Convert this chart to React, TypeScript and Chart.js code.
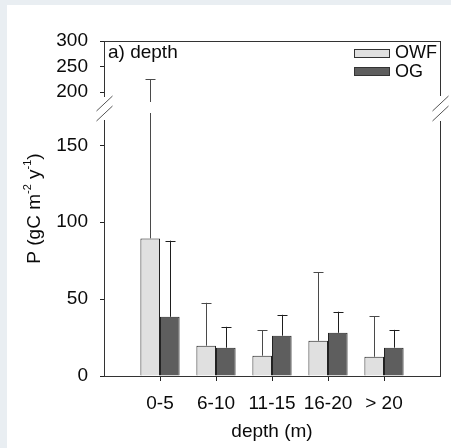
import React, { useEffect, useRef } from 'react';
import { Chart, registerables } from 'chart.js';

Chart.register(...registerables);

// ---- data ----
const categories = ['0-5', '6-10', '11-15', '16-20', '> 20'];
const owfMean = [89.5, 19.7, 13.2, 22.9, 12.5];
const owfSd = [135.5, 27.9, 16.7, 44.6, 26.5];
const ogMean = [38.5, 18.4, 26.2, 28.1, 18.4];
const ogSd = [49.5, 13.6, 13.6, 13.7, 11.6];
const seriesNames = ['OWF', 'OG'];
const lowerTicks = [0, 50, 100, 150];
const upperTicks = [200, 250, 300];
const lowerRange = [0, 173];
const upperRange = [165, 300];
const panelLabel = 'a) depth';
const xTitle = 'depth (m)';
const yTitleParts: { t: string; sup: boolean }[] = [
  { t: 'P (gC m', sup: false },
  { t: '-2', sup: true },
  { t: ' y', sup: false },
  { t: '-1', sup: true },
  { t: ')', sup: false },
];

// ---- style ----
const FONT = "'Liberation Sans', Arial, sans-serif";
const FS = 19;
const TEXT = '#0a0a0a';
const LINE = '#333';
const owfFill = '#e0e0e0';
const ogFill = '#5e5e5e';
const owfErr = '#4a4a4a';
const ogErr = '#1e1e1e';

const pad = <T,>(arr: T[]): (T | null)[] => [null, ...arr, null];
const paddedLabels = ['', ...categories, ''];

const decorPlugin = {
  id: 'decor',
  afterDatasetsDraw(chart: any) {
    const ctx: CanvasRenderingContext2D = chart.ctx;
    const ca = chart.chartArea;
    const yl = chart.scales.y;
    const yu = chart.scales.y2;
    const split = yl.top;

    // error bars (upper only)
    chart.data.datasets.forEach((ds: any, di: number) => {
      const meta = chart.getDatasetMeta(di);
      ctx.save();
      ctx.strokeStyle = ds.errColor;
      ctx.lineWidth = 1;
      meta.data.forEach((bar: any, j: number) => {
        const m = ds.data[j];
        const sd = ds.errors[j];
        if (m == null || sd == null) return;
        const top = m + sd;
        const x = Math.round(bar.x) + 0.5;
        const y0 = bar.y;
        ctx.beginPath();
        let yc: number;
        if (top <= lowerRange[1]) {
          yc = yl.getPixelForValue(top);
          ctx.moveTo(x, y0);
          ctx.lineTo(x, yc);
        } else {
          yc = yu.getPixelForValue(top);
          ctx.moveTo(x, y0);
          ctx.lineTo(x, split + 3);
          ctx.moveTo(x, split - 8);
          ctx.lineTo(x, yc);
        }
        yc = Math.round(yc) + 0.5;
        ctx.moveTo(x - 5, yc);
        ctx.lineTo(x + 5, yc);
        ctx.stroke();
      });
      ctx.restore();
    });

    // frame with axis breaks
    const L = Math.round(ca.left) + 0.5;
    const R = Math.round(ca.right) + 0.5;
    const T = Math.round(ca.top) + 0.5;
    const B = Math.round(ca.bottom) + 0.5;
    ctx.save();
    ctx.strokeStyle = LINE;
    ctx.lineWidth = 1;
    ctx.beginPath();
    ctx.moveTo(L - 0.5, T);
    ctx.lineTo(R + 0.5, T);
    ctx.moveTo(L - 0.5, B);
    ctx.lineTo(R + 0.5, B);
    ctx.moveTo(L, T);
    ctx.lineTo(L, split - 13);
    ctx.moveTo(L, split + 10);
    ctx.lineTo(L, B);
    ctx.moveTo(R, T);
    ctx.lineTo(R, split - 14);
    ctx.moveTo(R, split + 11);
    ctx.lineTo(R, B);
    ctx.stroke();
    ctx.strokeStyle = '#555';
    ctx.beginPath();
    [L, R].forEach((ax) => {
      ctx.moveTo(ax - 8, split + 1);
      ctx.lineTo(ax + 8, split - 14);
      ctx.moveTo(ax - 8, split + 11);
      ctx.lineTo(ax + 8, split - 4);
    });
    ctx.stroke();
    ctx.restore();

    // panel label
    ctx.save();
    ctx.fillStyle = TEXT;
    ctx.font = `${FS}px ${FONT}`;
    ctx.textBaseline = 'middle';
    ctx.textAlign = 'left';
    ctx.fillText(panelLabel, ca.left + 4, ca.top + 12);

    // legend
    ctx.font = `18px ${FONT}`;
    chart.data.datasets.forEach((ds: any, i: number) => {
      const cy = ca.top + 11.5 + i * 18.5;
      const bx = Math.round(ca.right - 86) + 0.5;
      ctx.fillStyle = ds.backgroundColor;
      ctx.strokeStyle = LINE;
      ctx.fillRect(bx, Math.round(cy - 4) + 0.5, 35, 8);
      ctx.strokeRect(bx, Math.round(cy - 4) + 0.5, 35, 8);
      ctx.fillStyle = TEXT;
      ctx.fillText(ds.label, ca.right - 45, cy + 1);
    });

    // y title with superscripts
    const cx = 28;
    const cyT = (ca.top + ca.bottom) / 2;
    ctx.translate(cx, cyT);
    ctx.rotate(-Math.PI / 2);
    const fN = `${FS}px ${FONT}`;
    const fS = `11px ${FONT}`;
    let total = 0;
    const widths = yTitleParts.map((p) => {
      ctx.font = p.sup ? fS : fN;
      const w = ctx.measureText(p.t).width;
      total += w;
      return w;
    });
    let xx = -total / 2;
    ctx.textAlign = 'left';
    yTitleParts.forEach((p, i) => {
      ctx.font = p.sup ? fS : fN;
      ctx.fillText(p.t, xx, p.sup ? -7 : 0);
      xx += widths[i];
    });
    ctx.restore();
  },
};

export default function App() {
  const ref = useRef<HTMLCanvasElement | null>(null);
  useEffect(() => {
    if (!ref.current) return;
    const tickFont = { family: FONT, size: FS };
    const chart = new Chart(ref.current, {
      type: 'bar',
      data: {
        labels: paddedLabels,
        datasets: [
          {
            label: seriesNames[0],
            data: pad(owfMean),
            errors: pad(owfSd),
            errColor: owfErr,
            backgroundColor: owfFill,
            borderColor: '#222',
            borderWidth: 1,
            yAxisID: 'y',
            categoryPercentage: 0.7,
            barPercentage: 1,
          } as any,
          {
            label: seriesNames[1],
            data: pad(ogMean),
            errors: pad(ogSd),
            errColor: ogErr,
            backgroundColor: ogFill,
            borderColor: '#222',
            borderWidth: 1,
            yAxisID: 'y',
            categoryPercentage: 0.7,
            barPercentage: 1,
          } as any,
        ],
      },
      options: {
        animation: false,
        responsive: false,
        devicePixelRatio: 1,
        layout: { padding: { top: 36, right: 10, left: 0, bottom: 0 } },
        plugins: { legend: { display: false }, tooltip: { enabled: false }, title: { display: false } },
        scales: {
          x: {
            type: 'category',
            offset: false,
            grid: {
              offset: false,
              drawOnChartArea: false,
              drawTicks: true,
              tickLength: 5,
              tickColor: (c: any) => (c.index === 0 || c.index === paddedLabels.length - 1 ? 'rgba(0,0,0,0)' : '#222'),
            },
            border: { display: false },
            ticks: { color: TEXT, font: tickFont, padding: 11, maxRotation: 0, autoSkip: false },
            title: { display: true, text: xTitle, color: TEXT, font: tickFont, padding: { top: 0, bottom: 5 } },
            afterFit: (s: any) => {
              s.height = 72;
            },
          },
          y: {
            type: 'linear',
            position: 'left',
            stack: 'left',
            stackWeight: 266,
            min: lowerRange[0],
            max: lowerRange[1],
            afterBuildTicks: (s: any) => {
              s.ticks = lowerTicks.map((v) => ({ value: v }));
            },
            grid: { drawOnChartArea: false, drawTicks: true, tickLength: 4, tickColor: '#222' },
            border: { display: false },
            ticks: { color: TEXT, font: tickFont, padding: 12, autoSkip: false },
            afterFit: (s: any) => {
              s.width = 97;
            },
          },
          y2: {
            type: 'linear',
            position: 'left',
            stack: 'left',
            stackWeight: 69,
            min: upperRange[0],
            max: upperRange[1],
            afterBuildTicks: (s: any) => {
              s.ticks = upperTicks.map((v) => ({ value: v }));
            },
            grid: { drawOnChartArea: false, drawTicks: true, tickLength: 4, tickColor: '#222' },
            border: { display: false },
            ticks: { color: TEXT, font: tickFont, padding: 12, autoSkip: false },
            afterFit: (s: any) => {
              s.width = 97;
            },
          },
        } as any,
      },
      plugins: [decorPlugin],
    });
    return () => chart.destroy();
  }, []);

  return (
    <div style={{ position: 'fixed', inset: 0, background: '#e9eef2' }}>
      <div style={{ position: 'absolute', left: 7, top: 5, width: 444, height: 443, background: '#ffffff' }}>
        <canvas ref={ref} width={444} height={443} style={{ display: 'block', width: 444, height: 443 }} />
      </div>
    </div>
  );
}
